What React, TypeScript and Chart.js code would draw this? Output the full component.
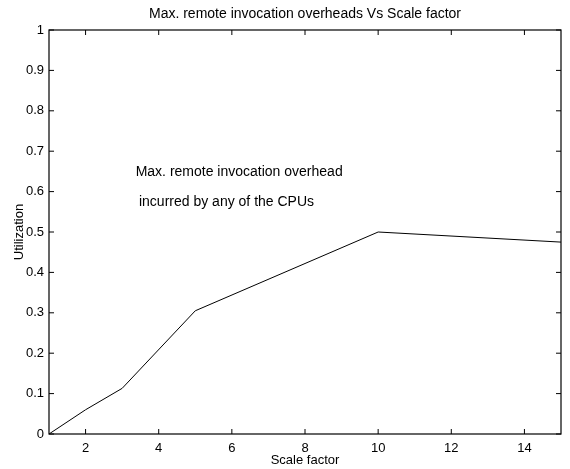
import React, { useEffect, useRef } from "react";
import { Chart, registerables } from "chart.js";

Chart.register(...registerables);

// ---- data ----
const scaleFactors = [1, 2, 3, 5, 10, 15];
const utilization = [0, 0.06, 0.113, 0.305, 0.5, 0.475];
const xTicks = [2, 4, 6, 8, 10, 12, 14];
const yTicks = [0, 0.1, 0.2, 0.3, 0.4, 0.5, 0.6, 0.7, 0.8, 0.9, 1];
const yTickLabels = ["0", "0.1", "0.2", "0.3", "0.4", "0.5", "0.6", "0.7", "0.8", "0.9", "1"];
const titleText = "Max. remote invocation overheads Vs Scale factor";
const xTitle = "Scale factor";
const yTitle = "Utilization";
const noteLines = ["Max. remote invocation overhead", "incurred by any of the CPUs"];
const noteX = [3.37, 3.46];
const noteY = [0.647, 0.575];

const FONT = "'Liberation Sans', Arial, Helvetica, sans-serif";

const boxPlugin = {
  id: "matlabBox",
  afterDraw(chart: any) {
    const { ctx, chartArea, scales } = chart;
    const { left, right, top, bottom } = chartArea;
    ctx.save();
    ctx.strokeStyle = "#000";
    ctx.lineWidth = 1.2;
    ctx.strokeRect(left, top, right - left, bottom - top);
    const tl = 5;
    ctx.lineWidth = 1;
    ctx.beginPath();
    for (const v of xTicks) {
      const px = scales.x.getPixelForValue(v);
      ctx.moveTo(px, bottom);
      ctx.lineTo(px, bottom - tl);
      ctx.moveTo(px, top);
      ctx.lineTo(px, top + tl);
    }
    for (const v of yTicks) {
      const py = scales.y.getPixelForValue(v);
      ctx.moveTo(left, py);
      ctx.lineTo(left + tl, py);
      ctx.moveTo(right, py);
      ctx.lineTo(right - tl, py);
    }
    ctx.stroke();
    // annotation text
    ctx.fillStyle = "#000";
    ctx.font = `14px ${FONT}`;
    ctx.textAlign = "left";
    ctx.textBaseline = "middle";
    noteLines.forEach((line, i) => {
      ctx.fillText(line, scales.x.getPixelForValue(noteX[i]), scales.y.getPixelForValue(noteY[i]));
    });
    ctx.restore();
  },
};

export default function App() {
  const ref = useRef<HTMLCanvasElement | null>(null);
  useEffect(() => {
    if (!ref.current) return;
    const chart = new Chart(ref.current, {
      type: "line",
      data: {
        datasets: [
          {
            data: scaleFactors.map((x, i) => ({ x, y: utilization[i] })),
            borderColor: "#000",
            borderWidth: 1,
            pointRadius: 0,
            tension: 0,
            fill: false,
          },
        ],
      },
      options: {
        responsive: false,
        animation: false,
        layout: { padding: { left: 0, right: 9, top: 0, bottom: 0 } },
        plugins: {
          legend: { display: false },
          tooltip: { enabled: false },
          title: {
            display: true,
            text: titleText,
            color: "#000",
            fullSize: false,
            font: { family: FONT, size: 14, weight: "normal" as any, lineHeight: 1.2 },
            padding: { top: 6, bottom: 7.2 },
          },
        },
        scales: {
          x: {
            type: "linear",
            min: 1,
            max: 15,
            afterBuildTicks: (s: any) => {
              s.ticks = xTicks.map((v) => ({ value: v }));
            },
            afterFit: (s: any) => {
              s.height = 35;
            },
            grid: { display: false, drawTicks: false },
            border: { display: false },
            ticks: {
              color: "#000",
              padding: 7,
              maxRotation: 0,
              autoSkip: false,
              font: { family: FONT, size: 13 },
              callback: (v: any) => String(v),
            },
            title: {
              display: true,
              text: xTitle,
              color: "#000",
              font: { family: FONT, size: 13 },
              padding: { top: 0, bottom: 1 },
            },
          },
          y: {
            type: "linear",
            min: 0,
            max: 1,
            afterBuildTicks: (s: any) => {
              s.ticks = yTicks.map((v) => ({ value: v }));
            },
            afterFit: (s: any) => {
              s.width = 49;
            },
            grid: { display: false, drawTicks: false },
            border: { display: false },
            ticks: {
              color: "#000",
              padding: 5,
              autoSkip: false,
              font: { family: FONT, size: 13 },
              callback: (_v: any, i: number) => yTickLabels[i],
            },
            title: {
              display: true,
              text: yTitle,
              color: "#000",
              font: { family: FONT, size: 13 },
              padding: { top: 12, bottom: 0 },
            },
          },
        },
      },
      plugins: [boxPlugin],
    });
    return () => chart.destroy();
  }, []);
  return (
    <div style={{ position: "absolute", left: 0, top: 0, width: 570, height: 469, background: "#fff" }}>
      <canvas ref={ref} width={570} height={469} />
    </div>
  );
}
